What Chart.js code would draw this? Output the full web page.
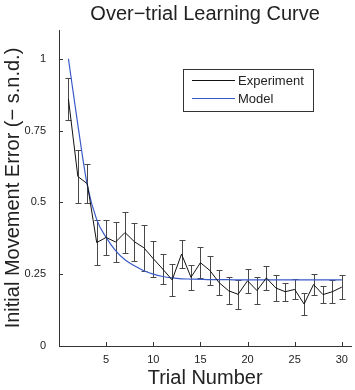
<!DOCTYPE html>
<html>
<head>
<meta charset="utf-8">
<script src="https://cdn.jsdelivr.net/npm/chart.js@4"></script>
<style>
  html, body { margin: 0; padding: 0; background: #fff; }
</style>
</head>
<body>
<canvas id="chart" width="355" height="390"></canvas>
<script>
const trials = [1, 2, 3, 4, 5, 6, 7, 8, 9, 10, 11, 12, 13, 14, 15, 16, 17, 18, 19, 20, 21, 22, 23, 24, 25, 26, 27, 28, 29, 30];
const experiment = [0.86, 0.59, 0.565, 0.36, 0.378, 0.362, 0.395, 0.363, 0.342, 0.304, 0.268, 0.23, 0.32, 0.239, 0.29, 0.263, 0.22, 0.192, 0.18, 0.227, 0.193, 0.237, 0.202, 0.189, 0.197, 0.146, 0.214, 0.179, 0.189, 0.205];
const experimentErr = [0.073, 0.093, 0.067, 0.078, 0.061, 0.068, 0.07, 0.066, 0.08, 0.063, 0.052, 0.055, 0.05, 0.044, 0.055, 0.05, 0.043, 0.047, 0.05, 0.042, 0.047, 0.042, 0.045, 0.032, 0.035, 0.038, 0.037, 0.031, 0.041, 0.043];
const model = [1.0, 0.77, 0.56, 0.44, 0.378, 0.332, 0.30, 0.279, 0.262, 0.25, 0.242, 0.237, 0.234, 0.233, 0.232, 0.231, 0.231, 0.231, 0.23, 0.23, 0.23, 0.23, 0.23, 0.23, 0.23, 0.23, 0.23, 0.23, 0.23, 0.23];
const xTicks = [5, 10, 15, 20, 25, 30];
const yTicks = [0, 0.25, 0.5, 0.75, 1];
const yTickLabels = ["0", "0.25", "0.5", "0.75", "1"];

const FONT = "'Liberation Sans', Arial, Helvetica, sans-serif";
const TEXT = "#222";
const AXIS = "#333";
const BLUE = "#3a5bc7";

// error bars under the lines
const errorBars = {
  id: "errorBars",
  beforeDatasetsDraw(chart) {
    const { ctx, scales: { x, y } } = chart;
    ctx.save();
    ctx.strokeStyle = "#484848";
    ctx.lineWidth = 1;
    trials.forEach((t, i) => {
      const px = Math.round(x.getPixelForValue(t)) + 0.5;
      const top = Math.round(y.getPixelForValue(experiment[i] + experimentErr[i])) + 0.5;
      const bot = Math.round(y.getPixelForValue(experiment[i] - experimentErr[i])) + 0.5;
      ctx.beginPath();
      ctx.moveTo(px, top); ctx.lineTo(px, bot);
      ctx.moveTo(px - 3, top); ctx.lineTo(px + 3, top);
      ctx.moveTo(px - 3, bot); ctx.lineTo(px + 3, bot);
      ctx.stroke();
    });
    ctx.restore();
  }
};

// matlab style: ticks point inward, title over the axes, legend box inside
const decorations = {
  id: "decorations",
  afterDraw(chart) {
    const { ctx, chartArea: a, scales: { x, y } } = chart;
    ctx.save();
    ctx.strokeStyle = AXIS;
    ctx.lineWidth = 1;
    ctx.beginPath();
    xTicks.forEach(v => {
      const px = Math.round(x.getPixelForValue(v)) + 0.5;
      ctx.moveTo(px, a.bottom); ctx.lineTo(px, a.bottom - 4);
    });
    yTicks.forEach(v => {
      const py = Math.round(y.getPixelForValue(v)) + 0.5;
      ctx.moveTo(a.left, py); ctx.lineTo(a.left + 4, py);
    });
    ctx.stroke();

    ctx.fillStyle = TEXT;
    ctx.font = "20px " + FONT;
    ctx.textAlign = "center";
    ctx.textBaseline = "middle";
    ctx.fillText("Over\u2212trial Learning Curve", (a.left + a.right) / 2, 14);

    // legend
    const lx = a.left + 124, ly = a.top + 39, lw = 130, lh = 42;
    ctx.fillStyle = "#fff";
    ctx.fillRect(lx, ly, lw, lh);
    ctx.strokeStyle = AXIS;
    ctx.strokeRect(lx + 0.5, ly + 0.5, lw, lh);
    const rows = [["Experiment", "#111", 11], ["Model", BLUE, 29]];
    ctx.font = "13px " + FONT;
    ctx.textAlign = "left";
    rows.forEach(([label, color, dy]) => {
      ctx.strokeStyle = color;
      ctx.beginPath();
      ctx.moveTo(lx + 9, ly + dy + 0.5);
      ctx.lineTo(lx + 52, ly + dy + 0.5);
      ctx.stroke();
      ctx.fillStyle = TEXT;
      ctx.fillText(label, lx + 55, ly + dy + 1);
    });
    ctx.restore();
  }
};

new Chart(document.getElementById("chart"), {
  type: "line",
  data: {
    datasets: [
      {
        label: "Experiment",
        data: trials.map((t, i) => ({ x: t, y: experiment[i] })),
        borderColor: "#111",
        borderWidth: 1,
        pointRadius: 0,
        tension: 0,
        fill: false
      },
      {
        label: "Model",
        data: trials.map((t, i) => ({ x: t, y: model[i] })),
        borderColor: BLUE,
        borderWidth: 1.2,
        pointRadius: 0,
        cubicInterpolationMode: "monotone",
        fill: false
      }
    ]
  },
  options: {
    responsive: false,
    animation: false,
    layout: { padding: { top: 30, right: 2, left: 0, bottom: 0 } },
    plugins: {
      legend: { display: false },
      tooltip: { enabled: false },
      title: { display: false }
    },
    scales: {
      x: {
        type: "linear",
        min: 0,
        max: 31,
        afterBuildTicks: s => { s.ticks = xTicks.map(v => ({ value: v })); },
        afterFit: s => { s.height = 44; },
        grid: { display: false, drawTicks: false },
        border: { display: true, color: AXIS, width: 1 },
        ticks: { padding: 7, color: TEXT, font: { family: FONT, size: 11 }, maxRotation: 0, callback: v => String(v) },
        title: { display: true, text: "Trial Number", color: TEXT, font: { family: FONT, size: 20, lineHeight: 1.2 }, padding: { top: 0, bottom: 0 } }
      },
      y: {
        type: "linear",
        min: 0,
        max: 1.1,
        afterBuildTicks: s => { s.ticks = yTicks.map(v => ({ value: v })); },
        afterFit: s => { s.width = 59; },
        grid: { display: false, drawTicks: false },
        border: { display: true, color: AXIS, width: 1 },
        ticks: { padding: 13, color: TEXT, font: { family: FONT, size: 11 }, callback: v => yTickLabels[yTicks.indexOf(v)] },
        title: { display: true, text: "Initial Movement Error (\u2212 s.n.d.)", color: TEXT, font: { family: FONT, size: 20, lineHeight: 1.2 }, padding: { top: 1, bottom: 0 } }
      }
    }
  },
  plugins: [errorBars, decorations]
});
</script>
</body>
</html>
